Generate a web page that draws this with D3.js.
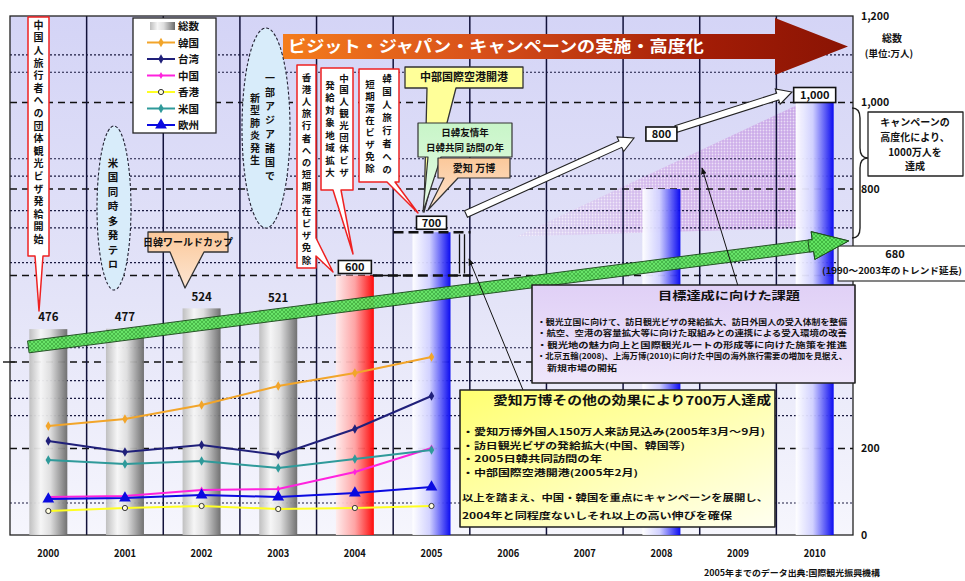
<!DOCTYPE html>
<html>
<head>
<meta charset="utf-8">
<script src="https://cdn.jsdelivr.net/npm/d3@7"></script>
<style>
  body { margin: 0; background: #fff; }
  svg text { font-family: "Noto Sans CJK JP", "Noto Sans", sans-serif; }
</style>
</head>
<body>
<svg id="chart" width="965" height="581"></svg>
<script>
// ---- data ----
const years = ["2000","2001","2002","2003","2004","2005","2006","2007","2008","2009","2010"];
const totalYears = ["2000","2001","2002","2003","2004","2005","2008","2010"];
const totalValues = [476, 477, 524, 521, 600, 700, 800, 1000];
const totalLabels = ["476", "477", "524", "521", "600", "700", "800", "1,000"];
const lineYears = ["2000","2001","2002","2003","2004","2005"];
const korea    = [106, 113, 127, 146, 159, 175];
const taiwan   = [91, 80, 87, 77, 103, 136];
const china    = [35, 36, 42, 43, 60, 84];
const hongkong = [21, 24, 26, 23, 24, 26];
const usa      = [72, 68, 71, 64, 73, 82];
const europe   = [33, 34, 37, 35, 39, 45];
const seriesNames = ["総数", "韓国", "台湾", "中国", "香港", "米国", "欧州"];
const rightTicks = [0, 200, 800, 1000, 1200];
const majorGrid = [200, 400, 600, 800, 1000];
const minorGrid = [74, 276, 316, 357, 433, 630, 710, 750, 830, 870, 1070, 1110];
const trendValues = [435, 680];   // trend extension (start, 2010)
const trendLabel = "680";

const svg = d3.select("#chart");
const plot = { left: 10, right: 853, top: 16, bottom: 535 };
const x = d3.scaleBand().domain(years).range([plot.left, plot.right]);
const bw = x.bandwidth();
const cx = d => x(d) + bw / 2;
const y = d3.scaleLinear().domain([0, 1200]).range([plot.bottom, plot.top]);
const y2 = d3.scaleLinear().domain([0, 240]).range([532, 292]);

// ---- defs ----
const defs = svg.append("defs");
function linGrad(id, stops, x2 = "100%", y2v = "0%") {
  const g = defs.append("linearGradient").attr("id", id)
    .attr("x1", "0%").attr("y1", "0%").attr("x2", x2).attr("y2", y2v);
  stops.forEach(s => g.append("stop").attr("offset", s[0]).attr("stop-color", s[1]).attr("stop-opacity", s[2] == null ? 1 : s[2]));
}
linGrad("bgGrad", [[0, "#d4d4f6"], [0.55, "#e4e4f8"], [1, "#f6f6fd"]], "0%", "100%");
linGrad("grayBar", [[0, "#bdbdbd"], [0.3, "#f6f6f6"], [0.55, "#dedede"], [1, "#6a6a6a"]]);
linGrad("redBar", [[0, "#ffecec"], [0.5, "#ffa0a0"], [1, "#ff0000"]]);
linGrad("blueBar", [[0, "#ffffff"], [0.45, "#d0d0ff"], [1, "#0000f0"]]);
linGrad("titleGrad", [[0, "#f47c1c"], [0.35, "#d8501a"], [0.75, "#a21c06"], [1, "#8a1404"]]);
linGrad("yellowBox", [[0, "#ffff70"], [0.5, "#ffffb0"], [1, "#fffff0"]], "100%", "100%");
linGrad("lavBox", [[0, "#e0d0f6"], [1, "#efe6fb"]], "0%", "100%");
linGrad("peachBox", [[0, "#fbc89a"], [1, "#fde6d2"]], "0%", "100%");
linGrad("greenBox", [[0, "#c8f5c8"], [1, "#e6fbe6"]], "0%", "100%");
linGrad("wedgeGrad", [[0, "#d0a0e0", 0.15], [0.5, "#c890e0", 0.5], [1, "#c090e0", 0.7]]);

const pat = defs.append("pattern").attr("id", "greenHatch")
  .attr("width", 4).attr("height", 4).attr("patternUnits", "userSpaceOnUse");
pat.append("rect").attr("width", 4).attr("height", 4).attr("fill", "#62e462");
pat.append("path").attr("d", "M0,0L4,4M4,0L0,4").attr("stroke", "#2c9a2c").attr("stroke-width", 0.6);

const wpat = defs.append("pattern").attr("id", "wedgeDots")
  .attr("width", 3).attr("height", 3).attr("patternUnits", "userSpaceOnUse");
wpat.append("circle").attr("cx", 1.5).attr("cy", 1.5).attr("r", 0.9).attr("fill", "#ffffff").attr("opacity", 0.6);

defs.append("marker").attr("id", "blackHead").attr("viewBox", "0 0 10 10")
  .attr("refX", 9).attr("refY", 5).attr("markerWidth", 7).attr("markerHeight", 7)
  .attr("orient", "auto")
  .append("path").attr("d", "M0,1L10,5L0,9Z").attr("fill", "#111");

// ---- plot background ----
svg.append("rect").attr("x", plot.left).attr("y", plot.top)
  .attr("width", plot.right - plot.left).attr("height", plot.bottom - plot.top)
  .attr("fill", "url(#bgGrad)");

// campaign wedge behind the future bars
const wedgeD = `M${cx("2005") + 85},${y(690)}L${cx("2010") - 12},${y(1000)}L${cx("2010") - 12},${y(710)}Z`;
svg.append("path").attr("d", wedgeD).attr("fill", "url(#wedgeGrad)");
svg.append("path").attr("d", wedgeD).attr("fill", "url(#wedgeDots)");

// ---- grid ----
const grid = svg.append("g");
grid.selectAll(".minor").data(minorGrid).join("line")
  .attr("x1", plot.left).attr("x2", plot.right)
  .attr("y1", d => y(d)).attr("y2", d => y(d))
  .attr("stroke", "#1a1a40").attr("stroke-width", 1.2).attr("stroke-dasharray", "2,2");
grid.selectAll(".major").data(majorGrid).join("line")
  .attr("x1", plot.left).attr("x2", plot.right)
  .attr("y1", d => y(d)).attr("y2", d => y(d))
  .attr("stroke", "#111").attr("stroke-width", 1.4).attr("stroke-dasharray", "7,5");

// vertical category lines and frame
svg.append("g").selectAll("line").data(years.slice(1)).join("line")
  .attr("x1", d => x(d)).attr("x2", d => x(d))
  .attr("y1", plot.top).attr("y2", plot.bottom)
  .attr("stroke", "#12123a").attr("stroke-width", 1.5);
svg.append("rect").attr("x", plot.left).attr("y", plot.top)
  .attr("width", plot.right - plot.left).attr("height", plot.bottom - plot.top)
  .attr("fill", "none").attr("stroke", "#222").attr("stroke-width", 1.3);
svg.append("line").attr("x1", 3).attr("x2", 15).attr("y1", y2(170)).attr("y2", y2(170))
  .attr("stroke", "#222").attr("stroke-width", 1.5);

// ---- total bars ----
const barW = 38;
const barFill = yr => (+yr < 2004 ? "url(#grayBar)" : (+yr === 2004 ? "url(#redBar)" : "url(#blueBar)"));
svg.append("g").selectAll("rect").data(totalYears).join("rect")
  .attr("x", d => cx(d) - barW / 2)
  .attr("y", (d, i) => y(totalValues[i]))
  .attr("width", barW)
  .attr("height", (d, i) => y(0) - y(totalValues[i]))
  .attr("fill", d => barFill(d)).attr("opacity", 0.95);

// ---- helpers ----
function arrowPoly(x1, y1, x2, y2, half, headHalf, headLen) {
  const dx = x2 - x1, dy = y2 - y1, L = Math.hypot(dx, dy);
  const ux = dx / L, uy = dy / L, nx = -uy, ny = ux;
  const pts = [[0, -half], [L - headLen, -half], [L - headLen, -headHalf], [L, 0],
               [L - headLen, headHalf], [L - headLen, half], [0, half]];
  return "M" + pts.map(p => [x1 + ux * p[0] + nx * p[1], y1 + uy * p[0] + ny * p[1]].join(",")).join("L") + "Z";
}
function callout(box, tail, fill, stroke, sw) {
  const [x0, y0, x1, y1] = box;
  let d;
  if (!tail) d = `M${x0},${y0}H${x1}V${y1}H${x0}Z`;
  else if (tail.side === "bottom")
    d = `M${x0},${y0}H${x1}V${y1}H${tail.b}L${tail.tx},${tail.ty}L${tail.a},${y1}H${x0}Z`;
  else
    d = `M${x0},${y0}H${x1}V${tail.a}L${tail.tx},${tail.ty}L${x1},${tail.b}V${y1}H${x0}Z`;
  return svg.append("path").attr("d", d).attr("fill", fill).attr("stroke", stroke)
    .attr("stroke-width", sw || 1.3).attr("stroke-linejoin", "round");
}
// vertical (top-to-bottom) column of text; yc0 = centre of the first glyph
function vtext(xp, yc0, step, str, size) {
  return svg.append("text")
    .attr("x", xp).attr("y", yc0 - size / 2)
    .style("writing-mode", "vertical-rl")
    .attr("font-size", size).attr("font-weight", "bold")
    .attr("fill", "#111")
    .attr("letter-spacing", step - size)
    .text(str);
}
function htext(xp, yc, str, size, opts = {}) {
  const t = svg.append("text").attr("x", xp).attr("y", yc + size * 0.36)
    .attr("font-size", size).attr("font-weight", opts.weight || "bold")
    .attr("fill", opts.fill || "#111").attr("text-anchor", opts.anchor || "middle")
    .text(str);
  if (opts.len) t.attr("textLength", opts.len).attr("lengthAdjust", "spacingAndGlyphs");
  return t;
}

// ---- trend arrow ----
const tx0 = cx("2000") - 20, tx1 = cx("2010") + 34;
svg.append("path")
  .attr("d", arrowPoly(tx0, y(trendValues[0]), tx1, y(trendValues[1]), 6, 14, 36))
  .attr("fill", "url(#greenHatch)").attr("stroke", "#1d4d1d").attr("stroke-width", 1)
  .attr("opacity", 0.95);

// ---- country lines ----
const seriesDefs = [
  { name: "韓国", values: korea,    color: "#f2a52a", marker: "diamond" },
  { name: "台湾", values: taiwan,   color: "#20207a", marker: "diamond" },
  { name: "中国", values: china,    color: "#ff22dd", marker: "dot" },
  { name: "香港", values: hongkong, color: "#ffff22", marker: "circle" },
  { name: "米国", values: usa,      color: "#2f9a9a", marker: "diamond" },
  { name: "欧州", values: europe,   color: "#0a0ae0", marker: "triangle" }
];
function drawMarker(g, type, px, py, color) {
  if (type === "circle") {
    g.append("circle").attr("cx", px).attr("cy", py).attr("r", 2.6)
      .attr("fill", "#fffde0").attr("stroke", "#333").attr("stroke-width", 1);
  } else {
    const sym = type === "triangle" ? d3.symbolTriangle : d3.symbolDiamond;
    const size = type === "triangle" ? 60 : (type === "dot" ? 14 : 26);
    g.append("path").attr("d", d3.symbol().type(sym).size(size)())
      .attr("transform", `translate(${px},${py})`).attr("fill", color);
  }
}
const lineGen = d3.line().x(d => cx(d.year)).y(d => y2(d.v));
const linesG = svg.append("g");
seriesDefs.forEach(s => {
  const pts = lineYears.map((yr, i) => ({ year: yr, v: s.values[i] }));
  linesG.append("path").datum(pts).attr("d", lineGen)
    .attr("fill", "none").attr("stroke", s.color).attr("stroke-width", 2);
  pts.forEach(p => drawMarker(linesG, s.marker, cx(p.year), y2(p.v), s.color));
});

// ---- legend ----
const lg = svg.append("g");
lg.append("rect").attr("x", 133).attr("y", 18).attr("width", 83).attr("height", 115)
  .attr("fill", "#fff").attr("stroke", "#222").attr("stroke-width", 1.3);
seriesNames.forEach((nm, i) => {
  const ly = 26 + i * 16.5;
  if (i === 0) {
    lg.append("rect").attr("x", 150).attr("y", ly - 4).attr("width", 25).attr("height", 8)
      .attr("fill", "url(#grayBar)");
  } else {
    const s = seriesDefs[i - 1];
    lg.append("line").attr("x1", 147).attr("x2", 175).attr("y1", ly).attr("y2", ly)
      .attr("stroke", s.color).attr("stroke-width", 2);
    drawMarker(lg, s.marker, 161, ly, s.color);
  }
  lg.append("text").attr("x", 178).attr("y", ly + 4).attr("font-size", 10.5)
    .attr("font-weight", "bold").attr("fill", "#111").text(nm);
});

// ---- campaign title arrow ----
svg.append("path").attr("d", "M283,34H775V18L848,46.5L775,75V59H283Z")
  .attr("fill", "url(#titleGrad)");
htext(288, 46.5, "ビジット・ジャパン・キャンペーンの実施・高度化", 16,
  { anchor: "start", fill: "#fff", len: 416 });

// ---- 2005 step marks ----
svg.append("line").attr("x1", cx("2005") - 38).attr("x2", cx("2005") + 39)
  .attr("y1", y(700)).attr("y2", y(700))
  .attr("stroke", "#111").attr("stroke-width", 2.6).attr("stroke-dasharray", "10,5");
svg.append("line").attr("x1", cx("2004") + 18).attr("x2", cx("2005") + 39)
  .attr("y1", y(600)).attr("y2", y(600))
  .attr("stroke", "#111").attr("stroke-width", 2.6).attr("stroke-dasharray", "10,5");
[cx("2005") + 28, cx("2005") + 33].forEach(bx =>
  svg.append("line").attr("x1", bx).attr("x2", bx).attr("y1", y(700) + 2).attr("y2", y(600) - 2)
    .attr("stroke", "#111").attr("stroke-width", 1.3));

// ---- hollow white arrows between targets ----
svg.append("path").attr("d", arrowPoly(466, 214, 634, 138, 3.5, 8, 15))
  .attr("fill", "#fff").attr("stroke", "#222").attr("stroke-width", 1.1);
svg.append("path").attr("d", arrowPoly(676, 129, 792, 92, 3.5, 8, 15))
  .attr("fill", "#fff").attr("stroke", "#222").attr("stroke-width", 1.1);

// ---- bar value labels ----
totalYears.forEach((yr, i) => {
  const v = totalValues[i];
  if (+yr < 2004) {
    htext(cx(yr), y(v) - 12, totalLabels[i], 11.5);
  }
});
const boxed = [
  { yr: "2004", w: 33, h: 13, off: 15 },
  { yr: "2005", w: 30, h: 13, off: 16 },
  { yr: "2008", w: 31, h: 14, off: 62 },
  { yr: "2010", w: 42, h: 15, off: 15 }
];
boxed.forEach(b => {
  const i = totalYears.indexOf(b.yr);
  const top = y(totalValues[i]) - b.off;
  svg.append("rect").attr("x", cx(b.yr) - b.w / 2).attr("y", top).attr("width", b.w).attr("height", b.h)
    .attr("fill", "#fff").attr("stroke", "#111").attr("stroke-width", 1.6);
  htext(cx(b.yr), top + b.h / 2, totalLabels[i], 11);
});

// ---- event callouts ----
callout([28, 17, 49, 256], { side: "bottom", a: 35, b: 43, tx: 39, ty: 311 }, "#fff", "#e22", 1.5);
vtext(38.5, 25, 12.6, "中国人旅行者への団体観光ビザ発給開始", 10);

svg.append("ellipse").attr("cx", 114).attr("cy", 208).attr("rx", 17).attr("ry", 82)
  .attr("fill", "#d8ecfa").attr("stroke", "#223").attr("stroke-width", 1.1).attr("stroke-dasharray", "3,2");
vtext(113, 163, 14.5, "米国同時多発テロ", 10.5);

callout([148, 232, 228, 252], { side: "bottom", a: 170, b: 204, tx: 185, ty: 288 }, "url(#peachBox)", "#333", 1.3);
htext(188, 242, "日韓ワールドカップ", 10);

svg.append("ellipse").attr("cx", 266).attr("cy", 128).attr("rx", 24).attr("ry", 100)
  .attr("fill", "#d8ecfa").attr("stroke", "#223").attr("stroke-width", 1.1).attr("stroke-dasharray", "3,2");
vtext(270, 78, 14, "一部アジア諸国で", 10);
vtext(255, 98, 12.5, "新型肺炎発生", 10);

callout([297, 65, 316, 268], { side: "right", a: 238, b: 256, tx: 333, ty: 272 }, "#fff", "#e22", 1.5);
vtext(306.5, 77, 12.2, "香港人旅行者への短期滞在ビザ免除", 9.5);

callout([321, 68, 353, 190], { side: "bottom", a: 333, b: 341, tx: 353, ty: 254 }, "#fff", "#e22", 1.5);
vtext(344, 78, 11.8, "中国人観光団体ビザ", 9.5);
vtext(330, 85, 12.5, "発給対象地域拡大", 9.5);

callout([359, 69, 399, 182], { side: "bottom", a: 387, b: 395, tx: 418, ty: 213 }, "#fff", "#e22", 1.5);
vtext(387, 78, 13, "韓国人旅行者への", 9.5);
vtext(370, 84, 12, "短期滞在ビザ免除", 9.5);

callout([405, 67, 523, 88], { side: "bottom", a: 427, b: 456, tx: 424, ty: 212 }, "#ffff99", "#333", 1.3);
htext(464, 77.5, "中部国際空港開港", 11);
callout([418, 123, 512, 157], { side: "bottom", a: 428, b: 441, tx: 423, ty: 212 }, "url(#greenBox)", "#333", 1.2);
htext(465, 133, "日韓友情年", 9.5);
htext(465, 148, "日韓共同 訪問の年", 9.5);
callout([438, 158, 510, 178], { side: "bottom", a: 444, b: 458, tx: 428, ty: 210 }, "url(#peachBox)", "#333", 1.2);
htext(474, 168, "愛知 万博", 10);

// ---- thin pointer arrows ----
svg.append("line").attr("x1", 523).attr("y1", 390).attr("x2", 469).attr("y2", 259)
  .attr("stroke", "#111").attr("stroke-width", 1).attr("marker-end", "url(#blackHead)");
svg.append("line").attr("x1", 738).attr("y1", 286).attr("x2", 702).attr("y2", 168)
  .attr("stroke", "#111").attr("stroke-width", 1).attr("marker-end", "url(#blackHead)");

// ---- issue box ----
callout([532, 285, 855, 383], null, "url(#lavBox)", "#222", 1.6);
htext(729, 296, "目標達成に向けた課題", 11.5, { len: 142 });
const issueLines = [
  "・観光立国に向けて、訪日観光ビザの発給拡大、訪日外国人の受入体制を整備",
  "・航空、空港の容量拡大等に向けた取組みとの連携による受入環境の改善",
  "・観光地の魅力向上と国際観光ルートの形成等に向けた施策を推進",
  "・北京五輪(2008)、上海万博(2010)に向けた中国の海外旅行需要の増加を見据え、",
  "　新規市場の開拓"
];
const issueY = [322, 333.5, 345, 356.5, 368];
issueLines.forEach((t, i) =>
  htext(537, issueY[i], t, 7.8, { anchor: "start", len: i === 4 ? 80 : 310 }));

// ---- 2005 effect box ----
callout([460, 390, 775, 527], null, "url(#yellowBox)", "#222", 1.6);
htext(632, 401, "愛知万博その他の効果により700万人達成", 12, { len: 278 });
const effectLines = [
  "・愛知万博外国人150万人来訪見込み(2005年3月～9月)",
  "・訪日観光ビザの発給拡大(中国、韓国等)",
  "・2005日韓共同訪問の年",
  "・中部国際空港開港(2005年2月)",
  "以上を踏まえ、中国・韓国を重点にキャンペーンを展開し、",
  "2004年と同程度ないしそれ以上の高い伸びを確保"
];
const effectY = [432, 445.5, 459, 472.5, 498, 516];
const effectLen = [303, 223, 140, 176, 306, 270];
effectLines.forEach((t, i) =>
  htext(462, effectY[i], t, 8.8, { anchor: "start", len: effectLen[i] }));

// ---- right side: goal box, brace, trend label ----
callout([868, 112, 963, 176], null, "#fff", "#222", 1.3);
htext(915, 122, "キャンペーンの", 10);
htext(915, 137, "高度化により、", 10);
htext(915, 152, "1000万人を", 10);
htext(915, 166, "達成", 10);
svg.append("path")
  .attr("d", "M852,108Q860,108 860,118V148Q860,158 868,158Q860,158 860,168V228Q860,238 852,238")
  .attr("fill", "none").attr("stroke", "#222").attr("stroke-width", 1.4);

svg.append("rect").attr("x", 838).attr("y", 246).attr("width", 130).attr("height", 35)
  .attr("fill", "#fff").attr("stroke", "#333").attr("stroke-width", 1.2);
htext(895, 254, trendLabel, 11);
htext(892, 271, "(1990～2003年のトレンド延長)", 9, { len: 140 });
// arrow head drawn again so it sits over the label box edge
svg.append("path")
  .attr("d", arrowPoly(tx1 - 40, y(trendValues[0]) + (y(trendValues[1]) - y(trendValues[0])) * ((tx1 - 40 - tx0) / (tx1 - tx0)),
                       tx1, y(trendValues[1]), 6, 14, 36))
  .attr("fill", "url(#greenHatch)").attr("stroke", "#1d4d1d").attr("stroke-width", 1);

// ---- right axis ----
rightTicks.forEach(v =>
  htext(861, y(v), d3.format(",")(v), 10.5, { anchor: "start" }));
htext(892, 38.5, "総数", 10);
htext(889, 54, "(単位:万人)", 9.5);

// ---- year labels and source ----
years.forEach(yr => htext(cx(yr), 553, yr, 10.5, { len: 22 }));
htext(792, 573, "2005年までのデータ出典:国際観光振興機構", 8.5, { len: 176 });
</script>
</body>
</html>
